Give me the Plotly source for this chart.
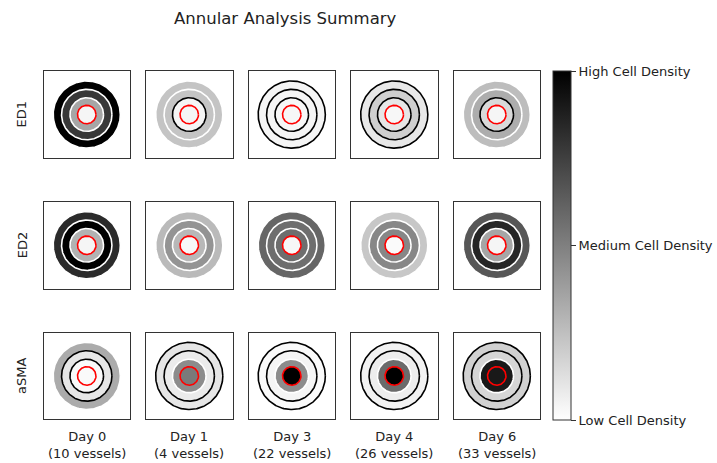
import numpy as np
import plotly.graph_objects as go

# ---------------- data ----------------
markers = ["ED1", "ED2", "aSMA"]
days = ["Day 0", "Day 1", "Day 3", "Day 4", "Day 6"]
vessels = [10, 4, 22, 26, 33]

# cell density (0 = low, 1 = high) for [lumen, ring 1 (inner), ring 2, ring 3 (outer)]
ed1 = [
    [0.04, 0.35, 0.78, 1.00],
    [0.04, 0.04, 0.23, 0.23],
    [0.03, 0.03, 0.04, 0.04],
    [0.03, 0.10, 0.19, 0.09],
    [0.04, 0.15, 0.32, 0.26],
]
ed2 = [
    [0.04, 0.30, 1.00, 0.83],
    [0.03, 0.28, 0.42, 0.27],
    [0.03, 0.57, 0.57, 0.60],
    [0.02, 0.47, 0.47, 0.22],
    [0.04, 0.35, 0.85, 0.66],
]
asma = [
    [0.02, 0.02, 0.10, 0.33],
    [0.52, 0.45, 0.08, 0.10],
    [1.00, 0.45, 0.04, 0.02],
    [1.00, 0.58, 0.07, 0.05],
    [0.90, 0.90, 0.16, 0.18],
]
density = [ed1, ed2, asma]

cbar_vals = [0, 0.5, 1]
cbar_text = ["Low Cell Density", "Medium Cell Density", "High Cell Density"]

# ---------------- layout constants ----------------
W, H = 717, 463
radii = [1.1, 2.0, 3.0, 4.0]     # lumen, ring1, ring2, ring3 outer radii
lim = 5.15
box_w = 86.5
col_left = [43.5 + 102.5 * i for i in range(5)]
row_top = [71.3, 202.0, 332.7]
FONT = "DejaVu Sans, Verdana, sans-serif"


def px(x):
    return x / W


def py(y):
    return 1 - y / H


def gray(v):
    b = int(round(255 * (1 - v)))
    return f"rgb({b},{b},{b})"


theta = np.linspace(0, 2 * np.pi, 241)
fig = go.Figure()
layout = dict(width=W, height=H, margin=dict(l=0, r=0, t=0, b=0),
              paper_bgcolor="white", plot_bgcolor="white", showlegend=False)

k = 0
for ri, row in enumerate(density):
    for ci, vals in enumerate(row):
        k += 1
        xa = "x" if k == 1 else f"x{k}"
        ya = "y" if k == 1 else f"y{k}"
        # draw discs from outside in
        for j in [3, 2, 1, 0]:
            v = vals[j]
            r = radii[j]
            if j == 0:
                edge, lw = "red", 1.6
            else:
                edge, lw = ("white" if v > 0.2 else "black"), 1.6
            fig.add_trace(go.Scatter(
                x=r * np.cos(theta), y=r * np.sin(theta), mode="lines",
                fill="toself", fillcolor=gray(v),
                line=dict(color=edge, width=lw),
                xaxis=xa, yaxis=ya, hoverinfo="skip"))
        x0 = px(col_left[ci])
        x1 = px(col_left[ci] + box_w)
        y1 = py(row_top[ri])
        y0 = py(row_top[ri] + box_w)
        ax = dict(range=[-lim, lim], showgrid=False, zeroline=False,
                  showticklabels=False, ticks="", showline=True, mirror=True,
                  linecolor="#333", linewidth=1, fixedrange=True)
        layout["xaxis" if k == 1 else f"xaxis{k}"] = dict(ax, domain=[x0, x1], anchor=ya)
        layout["yaxis" if k == 1 else f"yaxis{k}"] = dict(ax, domain=[y0, y1], anchor=xa)

# colorbar (hidden point outside the axes range)
fig.add_trace(go.Scatter(
    x=[100], y=[100], mode="markers", xaxis="x", yaxis="y",
    marker=dict(color=[0.5], cmin=0, cmax=1, size=1,
                colorscale=[[0, "white"], [1, "black"]], showscale=True,
                colorbar=dict(
                    x=px(553.3), xanchor="left", xref="paper",
                    y=py(245.9), yanchor="middle", yref="paper",
                    len=348.5, lenmode="pixels", thickness=17.7,
                    thicknessmode="pixels", xpad=0, ypad=0,
                    outlinewidth=1, outlinecolor="#333",
                    tickvals=cbar_vals, ticktext=cbar_text,
                    ticks="outside", ticklen=5, tickwidth=1, tickcolor="#333",
                    tickfont=dict(family=FONT, size=13, color="#222"))),
    hoverinfo="skip"))

ann = []
ann.append(dict(text="Annular Analysis Summary", x=px(285), y=py(18),
                xref="paper", yref="paper", showarrow=False,
                xanchor="center", yanchor="middle",
                font=dict(family=FONT, size=16.5, color="#222")))
for ri, m in enumerate(markers):
    ann.append(dict(text=m, x=px(22), y=py(row_top[ri] + box_w / 2),
                    xref="paper", yref="paper", showarrow=False, textangle=-90,
                    xanchor="center", yanchor="middle",
                    font=dict(family=FONT, size=13, color="#222")))
for ci, d in enumerate(days):
    ann.append(dict(text=f"{d}<br>({vessels[ci]} vessels)",
                    x=px(col_left[ci] + box_w / 2), y=py(445),
                    xref="paper", yref="paper", showarrow=False,
                    xanchor="center", yanchor="middle",
                    font=dict(family=FONT, size=13, color="#222")))
layout["annotations"] = ann
fig.update_layout(**layout)
fig.write_html("out.html",
               config={"displayModeBar": False, "staticPlot": True},
               post_script="document.body.style.margin='0';"
                           "document.body.style.overflow='hidden';")
